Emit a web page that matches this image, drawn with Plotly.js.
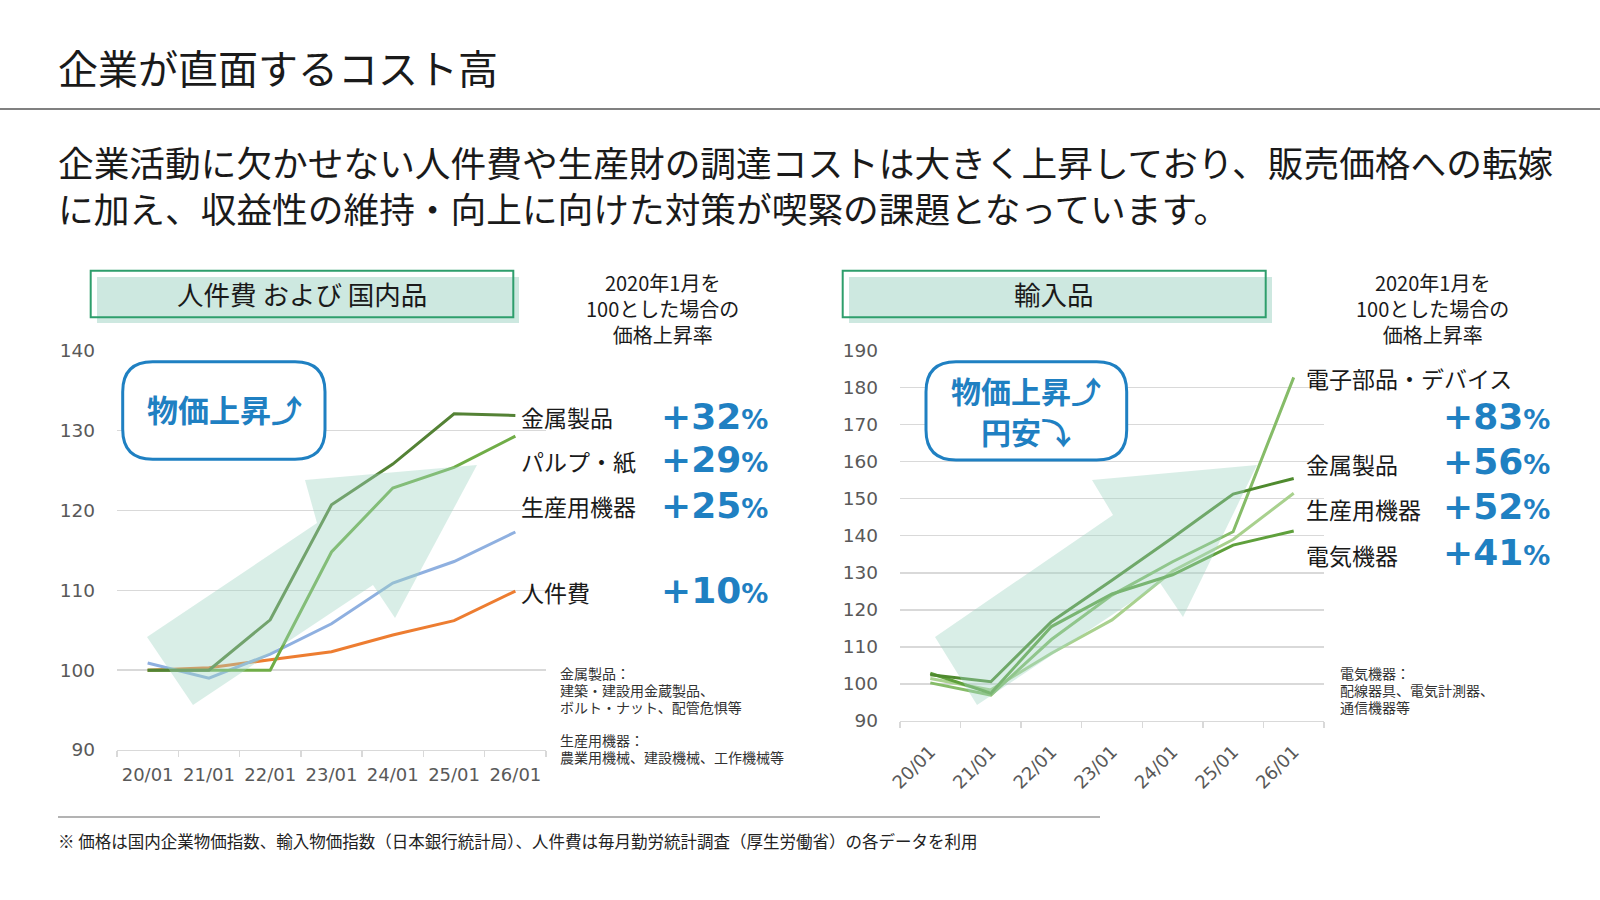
<!DOCTYPE html>
<html>
<head>
<meta charset="utf-8">
<script src="https://cdn.plot.ly/plotly-3.0.1.min.js"></script>
<style>
html,body{margin:0;padding:0;background:#fff;}
#chart{width:1600px;height:900px;}
</style>
</head>
<body>
<div id="chart"></div>
<script>
// ---------- data ----------
const categories = ['20/01','21/01','22/01','23/01','24/01','25/01','26/01'];

// 人件費 および 国内品 (2020年1月 = 100)
const domMetal      = [100.0, 100.0, 106.3, 120.7, 125.8, 132.1, 131.9];
const domPulp       = [100.0, 100.0, 100.0, 114.8, 122.8, 125.4, 129.3];
const domMachinery  = [100.9,  99.0, 102.0, 105.8, 110.9, 113.6, 117.3];
const laborCost     = [100.0, 100.3, 101.3, 102.3, 104.4, 106.2, 109.9];

// 輸入品 (2020年1月 = 100)
const impElectronic = [100.3,  97.0, 112.0, 124.0, 133.0, 141.1, 182.8];
const impMetal      = [102.5, 100.6, 116.8, 128.0, 139.5, 151.3, 155.5];
const impMachinery  = [101.5,  98.4, 108.3, 117.3, 130.5, 139.0, 151.5];
const impElectrical = [102.9,  97.5, 115.5, 124.3, 129.5, 137.5, 141.3];

const leftLabels  = ['金属製品', 'パルプ・紙', '生産用機器', '人件費'];
const leftRates   = ['+32', '+29', '+25', '+10'];
const rightLabels = ['電子部品・デバイス', '金属製品', '生産用機器', '電気機器'];
const rightRates  = ['+83', '+56', '+52', '+41'];

const leftTicks  = [90, 100, 110, 120, 130, 140];
const rightTicks = [90, 100, 110, 120, 130, 140, 150, 160, 170, 180, 190];

const titleText = '企業が直面するコスト高';
const subLines = ['企業活動に欠かせない人件費や生産財の調達コストは大きく上昇しており、販売価格への転嫁',
                  'に加え、収益性の維持・向上に向けた対策が喫緊の課題となっています。'];
const panelTitles = ['人件費 および 国内品', '輸入品'];
const baseNote = ['2020年1月を', '100とした場合の', '価格上昇率'];
const leftNotes = ['金属製品：', '建築・建設用金蔵製品、', 'ボルト・ナット、配管危惧等', '', '生産用機器：', '農業用機械、建設機械、工作機械等'];
const rightNotes = ['電気機器：', '配線器具、電気計測器、', '通信機器等'];
const balloonLeft = ['物価上昇⤴'];
const balloonRight = ['物価上昇⤴', '円安⤵'];
const footerText = '※ 価格は国内企業物価指数、輸入物価指数（日本銀行統計局）、人件費は毎月勤労統計調査（厚生労働省）の各データを利用';

// ---------- helpers ----------
const W = 1600, H = 900;
const PX = x => x / W;
const PY = y => 1 - y / H;
const JP = '"Noto Sans CJK JP", "DejaVu Sans", sans-serif';
const NUM = '"DejaVu Sans", "Noto Sans CJK JP", sans-serif';
const BLUE = '#1F80C2';
const GRID = '#D9D9D9';

function poly(pts) {
  return 'M ' + pts.map(p => PX(p[0]) + ',' + PY(p[1])).join(' L ') + ' Z';
}
function roundRect(x0, y0, x1, y1, r) {
  const P = (x, y) => PX(x) + ',' + PY(y);
  return 'M ' + P(x0 + r, y0) + ' L ' + P(x1 - r, y0) + ' Q ' + P(x1, y0) + ' ' + P(x1, y0 + r) +
    ' L ' + P(x1, y1 - r) + ' Q ' + P(x1, y1) + ' ' + P(x1 - r, y1) +
    ' L ' + P(x0 + r, y1) + ' Q ' + P(x0, y1) + ' ' + P(x0, y1 - r) +
    ' L ' + P(x0, y0 + r) + ' Q ' + P(x0, y0) + ' ' + P(x0 + r, y0) + ' Z';
}
function txt(x, y, text, size, opts) {
  opts = opts || {};
  return Object.assign({
    xref: 'paper', yref: 'paper', x: PX(x), y: PY(y), text: text, showarrow: false,
    xanchor: 'left', yanchor: 'middle', borderpad: 0, borderwidth: 0,
    font: {family: JP, size: size, color: '#1a1a1a'}
  }, opts);
}
function rateText(v) {
  return v + '<span style="font-size:27px">%</span>';
}

// ---------- traces ----------
function line(y, color, xa, ya, name) {
  return {x: categories, y: y, type: 'scatter', mode: 'lines', name: name,
          line: {color: color, width: 3}, xaxis: xa, yaxis: ya, hoverinfo: 'skip', showlegend: false};
}
const traces = [
  line(laborCost, '#ED7D31', 'x', 'y', '人件費'),
  line(domMachinery, '#8FB0E0', 'x', 'y', '生産用機器'),
  line(domPulp, '#70AD47', 'x', 'y', 'パルプ・紙'),
  line(domMetal, '#548235', 'x', 'y', '金属製品'),
  line(impMachinery, '#A9D18E', 'x2', 'y2', '生産用機器'),
  line(impElectronic, '#86BC68', 'x2', 'y2', '電子部品・デバイス'),
  line(impElectrical, '#5FA03C', 'x2', 'y2', '電気機器'),
  line(impMetal, '#4F8A2E', 'x2', 'y2', '金属製品')
];

// ---------- axes ----------
function xAxis(domain, angle, standoff) {
  return {domain: domain, anchor: angle === 0 ? 'y' : 'y2', type: 'category', range: [-0.5, 6.5],
          tickson: 'boundaries', ticks: 'outside', ticklen: 6, tickcolor: GRID, tickwidth: 1.3,
          showline: true, linecolor: GRID, linewidth: 1.3, showgrid: false, zeroline: false,
          tickangle: angle, ticklabelstandoff: standoff,
          tickfont: {family: NUM, size: 18, color: '#595959'}, fixedrange: true};
}
function yAxis(domain, range, ticks, anchor) {
  return {domain: domain, anchor: anchor, range: range, tickvals: ticks, ticktext: ticks.map(String),
          showgrid: true, gridcolor: GRID, gridwidth: 1.3, zeroline: false, showline: false, ticks: '',
          ticklabelstandoff: 21, tickfont: {family: NUM, size: 18.5, color: '#595959'}, fixedrange: true};
}

// ---------- shapes ----------
const shapes = [
  {type: 'line', xref: 'paper', yref: 'paper', x0: 0, x1: 1, y0: PY(109), y1: PY(109), line: {color: '#808080', width: 2}},
  {type: 'line', xref: 'paper', yref: 'paper', x0: PX(58), x1: PX(1100), y0: PY(817), y1: PY(817), line: {color: '#9a9a9a', width: 1.5}},
  {type: 'rect', xref: 'paper', yref: 'paper', x0: PX(97), x1: PX(519), y0: PY(323), y1: PY(277), fillcolor: '#CDE8E0', line: {width: 0}, layer: 'below'},
  {type: 'rect', xref: 'paper', yref: 'paper', x0: PX(90.7), x1: PX(513.3), y0: PY(317.3), y1: PY(270.7), fillcolor: 'rgba(0,0,0,0)', line: {color: '#2E9E6C', width: 2}},
  {type: 'rect', xref: 'paper', yref: 'paper', x0: PX(849), x1: PX(1272), y0: PY(323), y1: PY(277), fillcolor: '#CDE8E0', line: {width: 0}, layer: 'below'},
  {type: 'rect', xref: 'paper', yref: 'paper', x0: PX(842.7), x1: PX(1265.7), y0: PY(317.3), y1: PY(270.7), fillcolor: 'rgba(0,0,0,0)', line: {color: '#2E9E6C', width: 2}},
  {type: 'path', xref: 'paper', yref: 'paper', path: roundRect(122.7, 361.7, 325, 459.3, 30), fillcolor: '#ffffff', line: {color: BLUE, width: 3}},
  {type: 'path', xref: 'paper', yref: 'paper', path: roundRect(926, 361.7, 1126.7, 460, 30), fillcolor: '#ffffff', line: {color: BLUE, width: 3}},
  {type: 'path', xref: 'paper', yref: 'paper', layer: 'above', line: {width: 0}, fillcolor: 'rgba(160,213,195,0.40)',
   path: poly([[147, 637], [317, 523], [305, 480], [477, 465], [395, 618], [373, 585], [193, 705]])},
  {type: 'path', xref: 'paper', yref: 'paper', layer: 'above', line: {width: 0}, fillcolor: 'rgba(160,213,195,0.40)',
   path: poly([[935, 637], [1113, 515], [1092, 480], [1257, 465], [1183, 617], [1160, 583], [977, 705]])}
];

// ---------- annotations ----------
const ann = [];
ann.push(txt(58, 67, titleText, 40));
ann.push(txt(58, 184, subLines.join('<br>'), 35.7, {align: 'left'}));
ann.push(txt(302, 293, panelTitles[0], 26.5, {xanchor: 'center'}));
ann.push(txt(1054, 293, panelTitles[1], 26.5, {xanchor: 'center'}));
ann.push(txt(662, 309, baseNote.join('<br>'), 20, {xanchor: 'center'}));
ann.push(txt(1432, 309, baseNote.join('<br>'), 20, {xanchor: 'center'}));

const leftLabelY = [417, 461, 506, 592];
const leftRateY  = [416, 460, 505, 590];
leftLabels.forEach((s, i) => ann.push(txt(521, leftLabelY[i], s, 23)));
leftRates.forEach((s, i) => ann.push(txt(661, leftRateY[i], rateText(s), 36,
  {font: {family: NUM, size: 36, color: BLUE, weight: 700}})));

const rightLabelY = [378, 464, 509, 555];
const rightRateY  = [416.7, 461.7, 506.7, 552.7];
rightLabels.forEach((s, i) => ann.push(txt(1306, rightLabelY[i], s, 23)));
rightRates.forEach((s, i) => ann.push(txt(1443, rightRateY[i], rateText(s), 36,
  {font: {family: NUM, size: 36, color: BLUE, weight: 700}})));

const noteY0 = 673, noteDy = 16.8;
leftNotes.forEach((s, i) => { if (s) ann.push(txt(560, noteY0 + i * noteDy, s, 14, {font: {family: JP, size: 14, color: '#333333'}})); });
rightNotes.forEach((s, i) => ann.push(txt(1340, noteY0 + i * noteDy, s, 14, {font: {family: JP, size: 14, color: '#333333'}})));

const bFont = {family: JP, size: 30, color: BLUE, weight: 700};
ann.push(txt(224, 408, balloonLeft[0], 30, {xanchor: 'center', font: Object.assign({}, bFont, {size: 31})}));
ann.push(txt(1026, 390, balloonRight[0], 30, {xanchor: 'center', font: bFont}));
ann.push(txt(1026, 431, balloonRight[1], 30, {xanchor: 'center', font: bFont}));

ann.push(txt(58, 841, footerText, 16.5, {font: {family: JP, size: 16.5, color: '#222222'}}));

// ---------- layout ----------
const layout = {
  width: W, height: H, autosize: false,
  margin: {l: 0, r: 0, t: 0, b: 0, pad: 0},
  paper_bgcolor: '#ffffff', plot_bgcolor: 'rgba(0,0,0,0)',
  showlegend: false,
  xaxis: xAxis([PX(117), PX(546)], 0, 8),
  yaxis: yAxis([PY(750), PY(350.7)], [90, 140], leftTicks, 'x'),
  xaxis2: xAxis([PX(900), PX(1324)], -45, 12),
  yaxis2: yAxis([PY(721), PY(350.7)], [90, 190], rightTicks, 'x2'),
  shapes: shapes,
  annotations: ann,
  font: {family: JP}
};

Plotly.newPlot('chart', traces, layout, {staticPlot: true, displayModeBar: false});
</script>
</body>
</html>
